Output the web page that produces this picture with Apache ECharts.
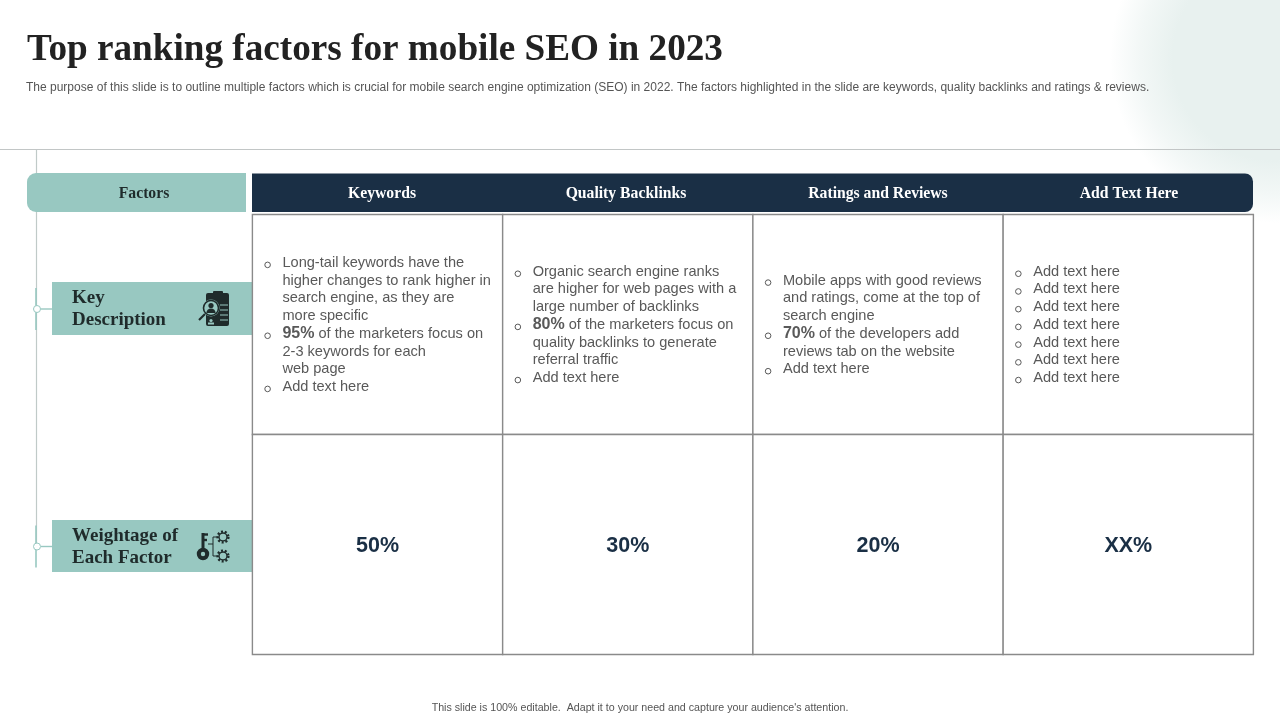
<!DOCTYPE html>
<html>
<head>
<meta charset="utf-8">
<style>html,body{margin:0;padding:0;background:#fff}#main{width:1280px;height:720px}</style>
<script src="https://cdn.jsdelivr.net/npm/echarts@6/dist/echarts.min.js"></script>
</head>
<body>
<div id="main"></div>
<script>
const titleText = 'Top ranking factors for mobile SEO in 2023'
const subtitleText = 'The purpose of this slide is to outline multiple factors which is crucial for mobile search engine optimization (SEO) in 2022. The factors highlighted in the slide are keywords, quality backlinks and ratings & reviews.'
const footerText = "This slide is 100% editable.  Adapt it to your need and capture your audience's attention."
const cornerLabel = 'Factors'
const columns = ['Keywords', 'Quality Backlinks', 'Ratings and Reviews', 'Add Text Here']
const rows = ['Key Description', 'Weightage of Each Factor']
const rowLabels = [['Key', 'Description'], ['Weightage of', 'Each Factor']]
const weights = ['50%', '30%', '20%', 'XX%']

// every cell is a list of bullets, every bullet a list of lines
const keywordsPoints = [
  ['Long-tail keywords have the', 'higher changes to rank higher in', 'search engine, as they are', 'more specific'],
  ['{b|95%} of the marketers focus on', '2-3 keywords for each', 'web page'],
  ['Add text here']
]
const backlinksPoints = [
  ['Organic search engine ranks', 'are higher for web pages with a', 'large number of backlinks'],
  ['{b|80%} of the marketers focus on', 'quality backlinks to generate', 'referral traffic'],
  ['Add text here']
]
const reviewsPoints = [
  ['Mobile apps with good reviews', 'and ratings, come at the top of', 'search engine'],
  ['{b|70%} of the developers add', 'reviews tab on the website'],
  ['Add text here']
]
const addTextPoints = [
  ['Add text here'], ['Add text here'], ['Add text here'], ['Add text here'],
  ['Add text here'], ['Add text here'], ['Add text here']
]
const points = [keywordsPoints, backlinksPoints, reviewsPoints, addTextPoints]

const teal = '#98c8c1'
const navy = '#1a2f45'
const ink = '#1f2b2b'
const serif = '"Liberation Serif", serif'
const sans = '"Liberation Sans", Arial, sans-serif'
const lineH = 17.72

// table cells, placed by the category axes
function renderCell(params, api) {
  const col = api.value(0)
  const row = api.value(1)
  const c = api.coord([col, row])
  const s = api.size([1, 1])
  const left = c[0] - s[0] / 2
  const kids = [{
    type: 'rect',
    shape: { x: left, y: c[1] - s[1] / 2, width: s[0], height: s[1] },
    style: { fill: '#fff', stroke: '#8a8a8a', lineWidth: 1.4 }
  }]
  if (row === 1) {
    kids.push({
      type: 'text',
      style: {
        x: c[0], y: c[1] + 1.5, text: weights[col], align: 'center', verticalAlign: 'middle',
        font: 'bold 21.5px ' + sans, fill: navy
      }
    })
    return { type: 'group', children: kids }
  }
  const list = points[col]
  const total = list.reduce((n, b) => n + b.length, 0)
  let i = 0
  list.forEach(bullet => {
    bullet.forEach((line, j) => {
      const y = c[1] + 0.4 + (i - (total - 1) / 2) * lineH
      if (j === 0) {
        kids.push({
          type: 'circle',
          shape: { cx: left + 15.2, cy: y + 2, r: 2.8 },
          style: { fill: 'none', stroke: '#595959', lineWidth: 1 }
        })
      }
      kids.push({
        type: 'text',
        style: {
          x: left + 30, y: y, text: line, align: 'left', verticalAlign: 'middle',
          font: '14.6px ' + sans, fill: '#595959',
          rich: { b: { font: 'bold 16px ' + sans, fill: '#595959' } }
        }
      })
      i++
    })
  })
  return { type: 'group', children: kids }
}

function txt(x, y, text, font, fill, align) {
  return { type: 'text', silent: true, style: { x, y, text, font, fill, align: align || 'left', verticalAlign: 'middle' } }
}
function bar(x1, y1, x2, y2, stroke, lineWidth) {
  return { type: 'line', silent: true, shape: { x1, y1, x2, y2 }, style: { stroke, lineWidth: lineWidth || 1 } }
}
function box(x, y, width, height, fill, r) {
  return { type: 'rect', silent: true, shape: { x, y, width, height, r: r || 0 }, style: { fill } }
}
function ring(cx, cy, r, stroke, lineWidth, extra) {
  return { type: 'circle', silent: true, shape: { cx, cy, r }, style: Object.assign({ fill: 'none', stroke, lineWidth }, extra) }
}
function dot(cx, cy, r, fill) {
  return { type: 'circle', silent: true, shape: { cx, cy, r }, style: { fill } }
}

// clipboard with magnifier
const clipboardIcon = [
  box(206, 293, 23, 33, ink, 2),
  box(213, 291, 10, 4, ink, 1),
  bar(220, 305, 228, 305, teal), bar(220, 310, 228, 310, teal), bar(220, 315, 228, 315, teal), bar(220, 320, 228, 320, teal),
  dot(211, 308, 8.5, teal),
  ring(211, 308, 7.5, ink, 1.6),
  dot(211, 305.5, 2.6, ink),
  { type: 'sector', silent: true, shape: { cx: 211, cy: 313, r: 4.6, startAngle: Math.PI, endAngle: Math.PI * 2 }, style: { fill: ink } },
  bar(205, 314, 199, 320, ink, 2.2),
  dot(211, 320.5, 1.6, teal),
  box(208, 322.5, 6, 2, teal)
]

// key with two gears
function gear(cx, cy) {
  return [ring(cx, cy, 5.4, ink, 2.4, { lineDash: [2, 1.8] }), ring(cx, cy, 4, ink, 1.4)]
}
const keyIcon = [
  ring(203, 554, 4.2, ink, 4),
  bar(203, 533, 203, 550, ink, 3),
  bar(203, 534.5, 208, 534.5, ink, 2.4),
  bar(203, 540, 207, 540, ink, 2.4),
  bar(208, 544, 213, 544, ink, 1),
  bar(213, 537, 213, 556, ink, 1),
  bar(213, 537, 218, 537, ink, 1),
  bar(213, 556, 218, 556, ink, 1)
].concat(gear(223, 537), gear(223, 556))

const headerCenters = [382, 626, 878, 1129]
const rowTop = [282, 520]
const rowMid = [309, 546.5]

const graphics = [
  {
    type: 'circle', silent: true, z: -10,
    shape: { cx: 1275, cy: 58, r: 165 },
    style: {
      fill: {
        type: 'radial', x: 0.5, y: 0.5, r: 0.5,
        colorStops: [
          { offset: 0, color: 'rgba(232,241,239,1)' }, { offset: 0.62, color: 'rgba(232,241,239,1)' },
          { offset: 0.82, color: 'rgba(232,241,239,0.55)' }, { offset: 1, color: 'rgba(232,241,239,0)' }
        ]
      }
    }
  },
  txt(27, 50, titleText, 'bold 37.2px ' + serif, '#222222'),
  txt(26, 87.5, subtitleText, '12px ' + sans, '#555555'),
  bar(0, 149.5, 1280, 149.5, '#c2c6c6'),
  bar(36.5, 150, 36.5, 546, '#c0cac8', 1.2),
  box(27, 173, 219, 39, teal, [9, 0, 0, 9]),
  box(252, 173.5, 1001, 38.5, navy, [0, 8, 8, 0]),
  txt(144, 193.5, cornerLabel, 'bold 15.7px ' + serif, ink, 'center'),
  txt(1280 / 2, 708.5, footerText, '10.67px ' + sans, '#555555', 'center')
]
columns.forEach((name, i) => {
  graphics.push(txt(headerCenters[i], 193.5, name, 'bold 15.7px ' + serif, '#ffffff', 'center'))
})
rows.forEach((name, i) => {
  const top = rowTop[i]
  const mid = rowMid[i]
  graphics.push(
    box(52, top, 200, i === 0 ? 53 : 52, teal),
    bar(36, mid - 21, 36, mid + 21, teal, 1.6),
    bar(41, mid, 52, mid, teal, 1.4),
    { type: 'circle', silent: true, shape: { cx: 37, cy: mid, r: 3.5 }, style: { fill: '#fff', stroke: teal, lineWidth: 1 } },
    txt(72, top + 16.5, rowLabels[i][0], 'bold 19px ' + serif, ink),
    txt(72, top + 38.5, rowLabels[i][1], 'bold 19px ' + serif, ink)
  )
})
graphics.push.apply(graphics, clipboardIcon.concat(keyIcon))

const cells = []
rows.forEach((r, y) => columns.forEach((c, x) => cells.push([x, y])))

const chart = echarts.init(document.getElementById('main'))
chart.setOption({
  backgroundColor: '#ffffff',
  animation: false,
  grid: { left: 252.4, top: 214.5, width: 1001, height: 440 },
  xAxis: { type: 'category', data: columns, show: false },
  yAxis: { type: 'category', data: rows, inverse: true, show: false },
  graphic: graphics,
  series: [{
    type: 'custom',
    coordinateSystem: 'cartesian2d',
    renderItem: renderCell,
    data: cells,
    silent: true,
    clip: false
  }]
})
</script>
</body>
</html>
